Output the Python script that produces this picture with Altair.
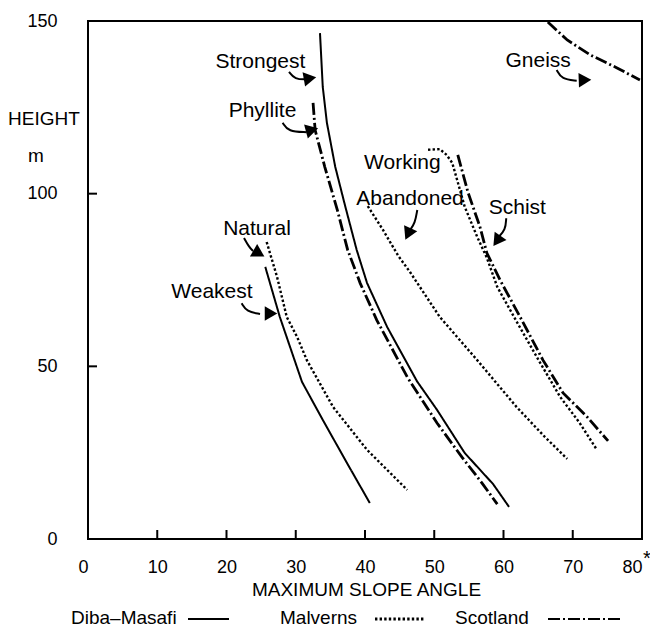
import altair as alt
import pandas as pd

# ---------------- data ----------------
strongest_x = [33.5, 33.9, 34.5, 35.7, 37.1, 38.8, 40.3, 43.2, 47.5, 50.4, 54.4, 58.5, 60.8]
strongest_y = [146.5, 130.9, 120.5, 107.8, 96.7, 83.7, 74.1, 61.4, 45.7, 37.4, 24.9, 15.9, 9.3]

phyllite_x = [32.5, 32.8, 34.2, 36.0, 37.5, 39.3, 41.7, 46.1, 50.4, 54.0, 56.9, 59.1]
phyllite_y = [126.3, 118.4, 107.7, 95.3, 83.7, 74.1, 63.4, 46.9, 33.6, 23.7, 16.2, 10.1]

natural_x = [25.8, 27.3, 28.7, 30.2, 31.6, 35.4, 40.3, 46.1]
natural_y = [86.0, 75.9, 64.3, 58.5, 51.8, 38.2, 25.8, 14.2]

weakest_x = [25.6, 27.7, 30.9, 33.9, 37.4, 40.7]
weakest_y = [78.8, 64.3, 45.5, 34.5, 22.0, 10.4]

abandoned_x = [40.4, 42.6, 44.8, 46.5, 50.8, 56.2, 61.9, 66.0, 69.2]
abandoned_y = [96.4, 89.5, 82.0, 77.3, 64.3, 51.8, 38.2, 29.5, 23.2]

working_x = [49.1, 50.8, 51.8, 52.6, 53.3, 54.4, 56.2, 57.6, 59.1, 62.0, 65.3, 68.2, 71.0, 73.5]
working_y = [112.7, 112.9, 111.2, 108.9, 104.0, 96.2, 87.5, 81.4, 73.0, 62.6, 51.0, 41.1, 33.6, 25.8]

schist_x = [53.4, 54.9, 56.6, 57.6, 59.5, 62.4, 65.7, 68.6, 72.1, 75.1]
schist_y = [111.2, 100.2, 90.4, 82.8, 75.0, 64.3, 51.8, 42.3, 35.3, 28.4]

gneiss_x = [66.4, 69.2, 72.5, 76.4, 79.7]
gneiss_y = [149.7, 144.5, 140.2, 136.4, 132.9]

regions = ["Diba–Masafi", "Malverns", "Scotland"]

curves = [
    ("Strongest", "Diba–Masafi", strongest_x, strongest_y),
    ("Weakest", "Diba–Masafi", weakest_x, weakest_y),
    ("Natural", "Malverns", natural_x, natural_y),
    ("Abandoned", "Malverns", abandoned_x, abandoned_y),
    ("Working", "Malverns", working_x, working_y),
    ("Phyllite", "Scotland", phyllite_x, phyllite_y),
    ("Schist", "Scotland", schist_x, schist_y),
    ("Gneiss", "Scotland", gneiss_x, gneiss_y),
]

# annotation labels (text, x, y of baseline centre)
ann_text = ["Strongest", "Phyllite", "Natural", "Weakest", "Working", "Abandoned", "Schist", "Gneiss"]
ann_x = [24.9, 25.2, 24.4, 17.9, 45.4, 46.5, 62.0, 65.0]
ann_y = [136.5, 122.1, 88.0, 69.7, 107.1, 96.7, 94.1, 136.8]

# arrow tails (start, bend, end) and heads (centre, direction)
arrow_names = ["Strongest", "Phyllite", "Natural", "Weakest", "Abandoned", "Schist", "Gneiss"]
tail_x = [[29.03, 29.89, 31.48], [28.11, 28.92, 31.58], [22.53, 23.25, 23.83],
          [22.19, 22.92, 24.84], [47.55, 47.22, 46.50], [60.39, 60.29, 59.25],
          [67.68, 68.40, 70.57]]
tail_y = [[135.3, 133.1, 133.1], [120.56, 117.96, 117.8], [87.17, 84.56, 83.4],
          [68.26, 65.83, 65.16], [95.28, 91.42, 89.49], [92.88, 89.49, 87.37],
          [135.82, 133.13, 132.73]]
head_x = [32.06, 32.35, 24.69, 26.43, 46.21, 59.06, 71.77]
head_y = [133.4, 118.45, 82.68, 65.3, 88.33, 86.3, 132.93]
head_angle = [80, 75, 120, 90, 205, 215, 88]

x_ticks = [10, 20, 30, 40, 50, 60, 70]
y_ticks = [50, 100]
x_labels = [0, 10, 20, 30, 40, 50, 60, 70, 80]
y_labels = [0, 50, 100, 150]
y_title = ["HEIGHT", "m"]

# ---------------- tables ----------------
rows = []
for name, region, xs, ys in curves:
    for i, (xv, yv) in enumerate(zip(xs, ys)):
        rows.append({"curve": name, "region": region, "x": xv, "y": yv, "i": i})
df = pd.DataFrame(rows)

ann_df = pd.DataFrame({"label": ann_text, "x": ann_x, "y": ann_y})

tail_rows = []
for name, xs, ys in zip(arrow_names, tail_x, tail_y):
    for i, (xv, yv) in enumerate(zip(xs, ys)):
        tail_rows.append({"arrow": name, "x": xv, "y": yv, "i": i})
tail_df = pd.DataFrame(tail_rows)
head_df = pd.DataFrame({"arrow": arrow_names, "x": head_x, "y": head_y, "angle": head_angle})

xt_df = pd.DataFrame({"x": x_ticks})
yt_df = pd.DataFrame({"y": y_ticks})

# ---------------- scales / axes ----------------
W, H = 554, 518
FONT = "Liberation Sans"
xscale = alt.Scale(domain=[0, 80], nice=False, zero=False)
yscale = alt.Scale(domain=[0, 150], nice=False, zero=False)

x_axis = alt.Axis(values=x_labels, ticks=False, tickSize=0, domain=False, grid=False,
                  labelPadding=33, labelBaseline="alphabetic", labelFontSize=18,
                  labelAlign={"condition": {"test": "datum.value == 0 || datum.value == 80",
                                            "value": "right"}, "value": "center"},
                  labelFont=FONT, labelColor="black", labelFlush=False, labelOverlap=False,
                  title="MAXIMUM SLOPE ANGLE", titleFont=FONT, titleFontSize=19,
                  titleFontWeight="normal", titleColor="black", titleX=278, titleY=56,
                  titleBaseline="alphabetic", titleAlign="center")
y_axis = alt.Axis(values=y_labels, ticks=False, tickSize=0, domain=False, grid=False,
                  labelPadding=31, labelFontSize=18, labelFont=FONT, labelColor="black",
                  labelFlush=False, labelOverlap=False, title="")


def X(field="x"):
    return alt.X(f"{field}:Q", scale=xscale, axis=x_axis)


def Y(field="y"):
    return alt.Y(f"{field}:Q", scale=yscale, axis=y_axis)


dash_ranges = [[1, 0], [2.4, 2.2], [12, 3, 2, 3]]
line_widths = [2, 2.8, 2]
dash_scale = alt.Scale(domain=regions, range=dash_ranges)
width_scale = alt.Scale(domain=regions, range=line_widths)

lines = alt.Chart(df).mark_line(color="black").encode(
    x=X(), y=Y(), detail="curve:N", order="i:Q",
    strokeDash=alt.StrokeDash("region:N", scale=dash_scale, legend=None),
    strokeWidth=alt.StrokeWidth("region:N", scale=width_scale, legend=None),
)

labels = alt.Chart(ann_df).mark_text(font=FONT, fontSize=21, align="center",
                                     baseline="alphabetic", color="black").encode(
    x=X(), y=Y(), text="label:N")

tails = alt.Chart(tail_df).mark_line(color="black", strokeWidth=2, interpolate="basis").encode(
    x=X(), y=Y(), detail="arrow:N", order="i:Q")

heads = alt.Chart(head_df).mark_point(shape="triangle-up", filled=True, size=210,
                                      color="black", opacity=1).encode(
    x=X(), y=Y(), angle=alt.Angle("angle:Q", scale=None))

xticks = alt.Chart(xt_df).mark_rule(color="black", strokeWidth=2).encode(
    x=X(), y=alt.value(H), y2=alt.value(H - 9))
yticks = alt.Chart(yt_df).mark_rule(color="black", strokeWidth=2).encode(
    y=Y(), x=alt.value(0), x2=alt.value(9))


def single_text(txt, px, py, size):
    return alt.Chart(pd.DataFrame({"t": [txt]})).mark_text(
        font=FONT, fontSize=size, align="left", baseline="alphabetic", color="black"
    ).encode(x=alt.value(px), y=alt.value(py), text="t:N")


star = single_text("*", 555, 544, 20)
ytitle1 = single_text(y_title[0], -80, 104, 19)
ytitle2 = single_text(y_title[1], -60, 140.7, 19)

# bottom legend: label followed by a line sample
leg_layers = []
leg_text_x = [-17, 192, 367]
leg_line = [(100, 141), (287, 337), (460, 534)]
for k, (name, tx, (l0, l1)) in enumerate(zip(regions, leg_text_x, leg_line)):
    leg_layers.append(single_text(name, tx, 603, 19))
    leg_layers.append(alt.Chart(pd.DataFrame({"region": [name]})).mark_rule(
        color="black", strokeWidth=line_widths[k], strokeDash=dash_ranges[k]).encode(
        x=alt.value(l0), x2=alt.value(l1), y=alt.value(598)))

chart = alt.layer(lines, tails, heads, labels, xticks, yticks, star, ytitle1, ytitle2,
                  *leg_layers).properties(
    width=W, height=H,
    autosize=alt.AutoSizeParams(type="none"),
    padding={"left": 80, "top": 13, "right": 8, "bottom": 89},
    background="white",
).configure_view(stroke="black", strokeWidth=2)

chart.save("out.html", embed_options={"renderer": "svg", "actions": False})
